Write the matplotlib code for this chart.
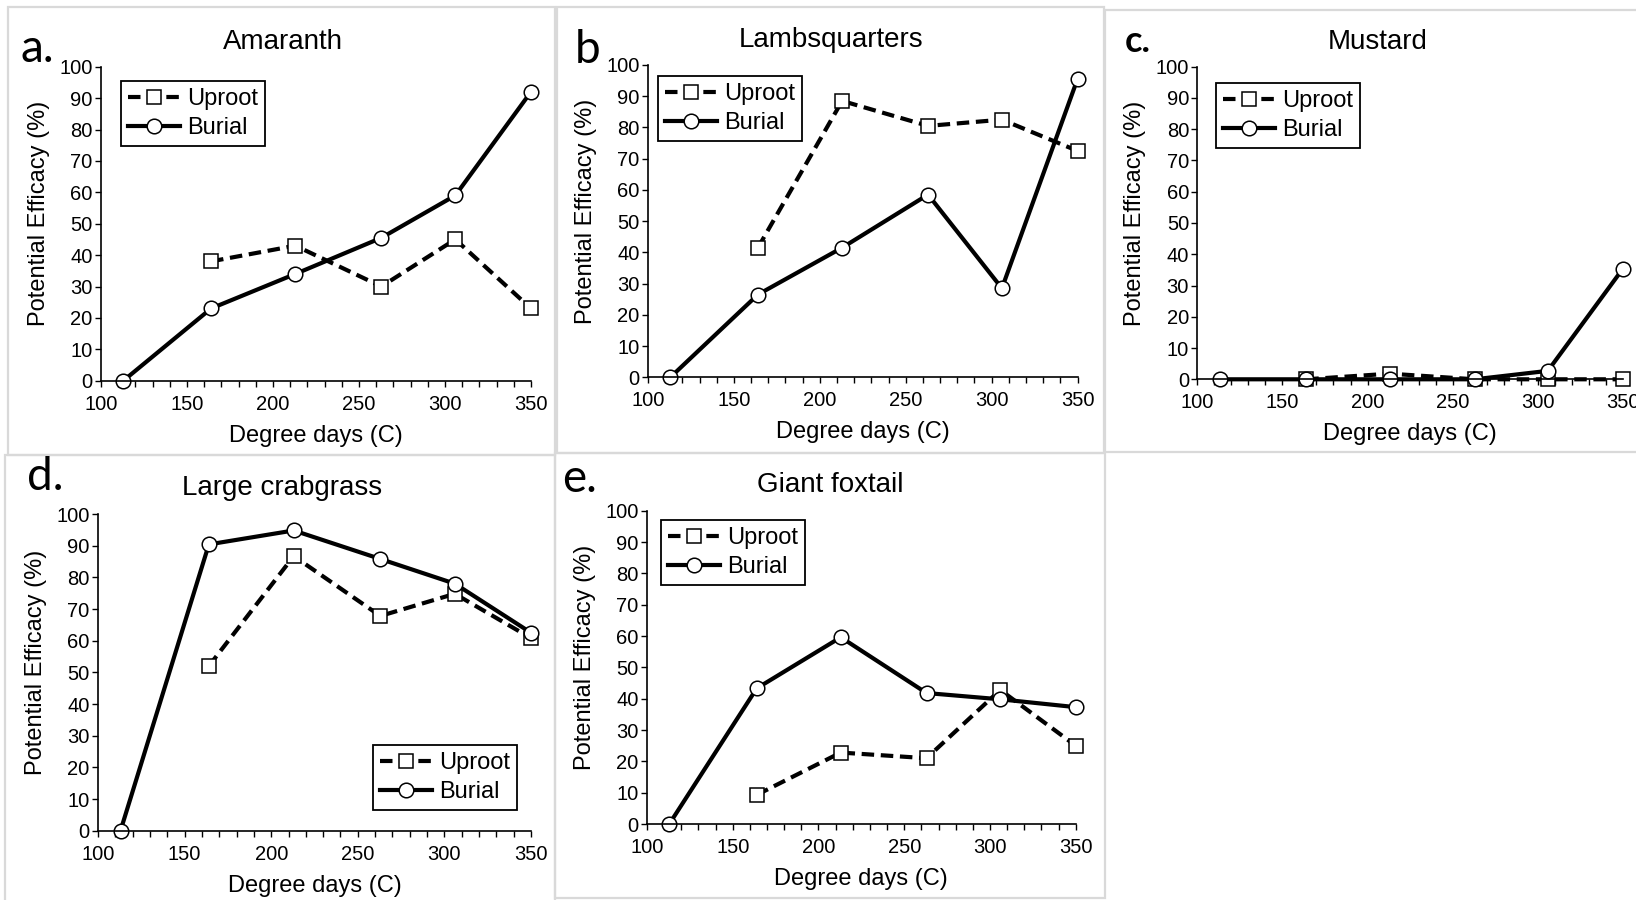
import matplotlib
matplotlib.use("Agg")
import matplotlib.pyplot as plt
from matplotlib.patches import Rectangle
from matplotlib.ticker import MultipleLocator

# degree days (C) at each sampling
degree_days = [113, 164, 213, 263, 306, 350]
uproot_days = [164, 213, 263, 306, 350]

# potential efficacy (%) per weed
amaranth_uproot = [38, 43, 30, 45, 23]
amaranth_burial = [0, 23, 34, 45.5, 59, 92]

lambs_uproot = [41.5, 88.5, 80.5, 82.5, 72.5]
lambs_burial = [0, 26.5, 41.5, 58.5, 28.5, 95.5]

mustard_uproot = [0, 1.8, 0, 0, 0]
mustard_burial = [0, 0, 0, 0, 2.7, 35.3]

crab_uproot = [52, 86.7, 67.8, 74.8, 60.8]
crab_burial = [0, 90.4, 94.8, 85.8, 78, 62.5]

foxtail_uproot = [9.3, 22.8, 21, 42.8, 25]
foxtail_burial = [0, 43.3, 59.6, 41.8, 39.8, 37.3]

titles = ["Amaranth", "Lambsquarters", "Mustard", "Large crabgrass", "Giant foxtail"]
letters = ["a.", "b", "c.", "d.", "e."]

W, H = 1636, 900
fig = plt.figure(figsize=(W / 100, H / 100), dpi=100)
plt.rcParams['font.family'] = ['Liberation Sans', 'DejaVu Sans']


def fx(x):
    return x / W


def fy(y):
    return 1 - y / H


# panel frames (pixels: left, top, right, bottom)
frames = [(8, 7, 555, 455), (557, 7, 1104, 453), (1105, 10, 1645, 452),
          (5, 455, 555, 905), (555, 453, 1105, 898)]
for l, t, r, b in frames:
    fig.patches.append(Rectangle((fx(l), fy(b)), (r - l) / W, (b - t) / H,
                                 transform=fig.transFigure, fill=False,
                                 edgecolor="#d9d9d9", linewidth=1.6, zorder=0))

# axes boxes (pixels: left, right, top, bottom)
boxes = [(101, 531, 66.7, 380.7), (648, 1077.5, 65, 377.3), (1197.4, 1622.7, 66.7, 379.3),
         (98, 531, 514, 830.7), (647, 1075.7, 510.7, 824)]
legend_pos = [(121, 81), (658, 76), (1216, 83), (373, 745), (661, 520)]
title_pos = [(283, 42), (831, 40), (1378, 42), (282, 488), (830, 485)]
letter_pos = [(21, 62), (575, 63), (1125, 52), (27, 490), (562, 492)]

uproots = [amaranth_uproot, lambs_uproot, mustard_uproot, crab_uproot, foxtail_uproot]
burials = [amaranth_burial, lambs_burial, mustard_burial, crab_burial, foxtail_burial]

for i in range(5):
    l, r, t, b = boxes[i]
    w, h = r - l, b - t
    ax = fig.add_axes([fx(l), fy(b), w / W, h / H])
    ax.plot(uproot_days, uproots[i], color="black", linewidth=3.0, dashes=(3, 1.6),
            marker="s", markersize=9.5, markerfacecolor="white",
            markeredgecolor="black", markeredgewidth=1.1, label="Uproot", clip_on=False)
    ax.plot(degree_days, burials[i], color="black", linewidth=3.0, linestyle="-",
            marker="o", markersize=10.5, markerfacecolor="white",
            markeredgecolor="black", markeredgewidth=1.1, label="Burial", clip_on=False)
    ax.set_xlim(100, 350)
    ax.set_ylim(0, 100)
    ax.xaxis.set_major_locator(MultipleLocator(50))
    ax.xaxis.set_minor_locator(MultipleLocator(10))
    ax.yaxis.set_major_locator(MultipleLocator(10))
    for s in ["top", "right"]:
        ax.spines[s].set_visible(False)
    for s in ["left", "bottom"]:
        ax.spines[s].set_linewidth(1.2)
        ax.spines[s].set_color("black")
    ax.tick_params(axis="x", which="major", length=4.5, width=1, pad=5.5, labelsize=14.5)
    ax.tick_params(axis="x", which="minor", length=4.5, width=1)
    ax.tick_params(axis="y", which="major", length=4.5, width=1, pad=1.5, labelsize=14.5)
    ax.set_xlabel("Degree days (C)", fontsize=17, va="center")
    ax.xaxis.set_label_coords(0.5, -55 / h)
    ax.set_ylabel("Potential Efficacy (%)", fontsize=17, va="center")
    ax.yaxis.set_label_coords(-62 / w, 0.5 + 10 / h)
    ax.patch.set_alpha(0)

    lx, ly = legend_pos[i]
    leg = ax.legend(loc="upper left", bbox_to_anchor=(fx(lx), fy(ly)),
                    bbox_transform=fig.transFigure, borderaxespad=0,
                    fontsize=17, handlelength=2.2, handletextpad=0.3,
                    borderpad=0.3, labelspacing=0.3, fancybox=False,
                    framealpha=1, edgecolor="black")
    leg.get_frame().set_linewidth(1.3)

    tx, ty = title_pos[i]
    fig.text(fx(tx), fy(ty), titles[i], fontsize=20, ha="center", va="center")

    px, py = letter_pos[i]
    if letters[i] == "c.":
        fig.text(fx(px), fy(py), letters[i], fontsize=26, fontweight="bold",
                 family="Lato", ha="left", va="baseline")
    else:
        fig.text(fx(px), fy(py), letters[i], fontsize=33, family="Lato",
                 ha="left", va="baseline")

fig.savefig("out.png", dpi=100)
